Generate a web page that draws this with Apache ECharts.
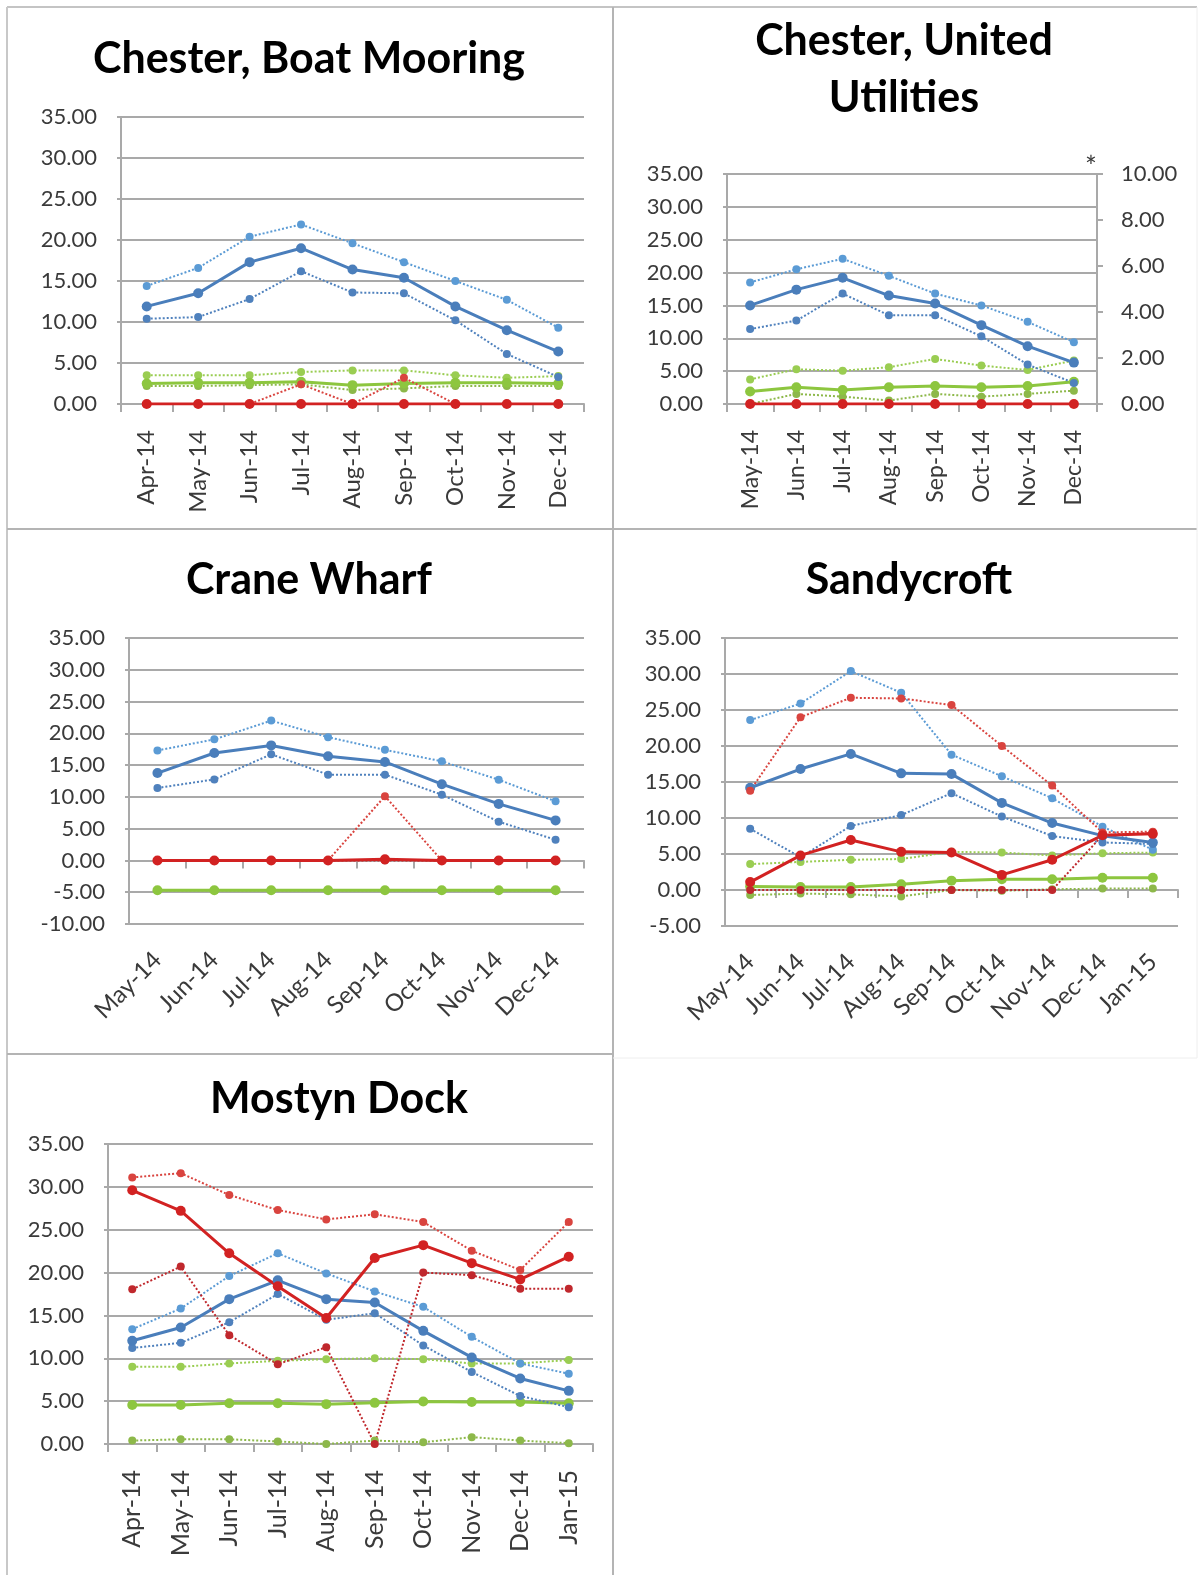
<!DOCTYPE html>
<html><head><meta charset="utf-8">
<script src="https://cdn.jsdelivr.net/npm/echarts@6/dist/echarts.min.js"></script>
<style>html,body{margin:0;padding:0;background:#fff}#c{width:1200px;height:1575px}</style>
</head><body><div id="c"></div>
<script>
// ---------- DATA ----------
// Chester, Boat Mooring
const bmCats = ['Apr-14','May-14','Jun-14','Jul-14','Aug-14','Sep-14','Oct-14','Nov-14','Dec-14'];
const bmBlueMean = [11.9, 13.5, 17.3, 19.0, 16.4, 15.4, 11.9, 9.0, 6.4];
const bmBlueMax  = [14.4, 16.6, 20.4, 21.9, 19.6, 17.3, 15.0, 12.7, 9.3];
const bmBlueMin  = [10.4, 10.6, 12.8, 16.2, 13.6, 13.5, 10.2, 6.1, 3.3];
const bmRedMean  = [0, 0, 0, 0, 0, 0, 0, 0, 0];
const bmRedMax   = [0, 0, 0, 2.4, 0, 3.2, 0, 0, 0];
const bmRedMin   = [0, 0, 0, 0, 0, 0, 0, 0, 0];
const bmGreenMean= [2.5, 2.6, 2.6, 2.7, 2.3, 2.5, 2.6, 2.6, 2.5];
const bmGreenMax = [3.5, 3.5, 3.5, 3.9, 4.1, 4.1, 3.5, 3.2, 3.4];
const bmGreenMin = [2.2, 2.2, 2.3, 2.4, 1.7, 1.9, 2.2, 2.2, 2.2];

// Chester, United Utilities (green on secondary axis *)
const uuCats = ['May-14','Jun-14','Jul-14','Aug-14','Sep-14','Oct-14','Nov-14','Dec-14'];
const uuBlueMean = [15.0, 17.4, 19.2, 16.5, 15.3, 12.0, 8.8, 6.3];
const uuBlueMax  = [18.5, 20.5, 22.1, 19.5, 16.8, 15.0, 12.5, 9.4];
const uuBlueMin  = [11.4, 12.7, 16.8, 13.5, 13.5, 10.3, 6.0, 3.2];
const uuRedMean  = [0, 0, 0, 0, 0, 0, 0, 0];
const uuRedMax   = [0, 0, 0, 0, 0, 0, 0, 0];
const uuRedMin   = [0, 0, 0, 0, 0, 0, 0, 0];
const uuGreenMean= [0.54, 0.73, 0.61, 0.73, 0.78, 0.73, 0.78, 0.97];
const uuGreenMax = [1.07, 1.51, 1.45, 1.60, 1.96, 1.67, 1.48, 1.89];
const uuGreenMin = [0.0, 0.44, 0.32, 0.15, 0.44, 0.32, 0.44, 0.58];

// Crane Wharf
const cwCats = ['May-14','Jun-14','Jul-14','Aug-14','Sep-14','Oct-14','Nov-14','Dec-14'];
const cwBlueMean = [13.75, 16.9, 18.1, 16.4, 15.5, 12.0, 8.9, 6.3];
const cwBlueMax  = [17.3, 19.05, 22.0, 19.4, 17.4, 15.6, 12.7, 9.3];
const cwBlueMin  = [11.4, 12.75, 16.7, 13.5, 13.5, 10.35, 6.1, 3.25];
const cwRedMean  = [0, 0, 0, 0, 0.2, 0, 0, 0];
const cwRedMax   = [0, 0, 0, 0, 10.1, 0, 0, 0];
const cwRedMin   = [0, 0, 0, 0, 0, 0, 0, 0];
const cwGreenMean= [-4.7, -4.7, -4.7, -4.7, -4.7, -4.7, -4.7, -4.7];
const cwGreenMax = [-4.7, -4.7, -4.7, -4.7, -4.7, -4.7, -4.7, -4.7];
const cwGreenMin = [-4.7, -4.7, -4.7, -4.7, -4.7, -4.7, -4.7, -4.7];

// Sandycroft
const scCats = ['May-14','Jun-14','Jul-14','Aug-14','Sep-14','Oct-14','Nov-14','Dec-14','Jan-15'];
const scBlueMean = [14.2, 16.8, 18.9, 16.2, 16.1, 12.1, 9.3, 7.55, 6.6];
const scBlueMax  = [23.6, 25.9, 30.4, 27.4, 18.8, 15.8, 12.75, 8.8, 5.6];
const scBlueMin  = [8.5, 4.55, 8.9, 10.4, 13.45, 10.2, 7.5, 6.6, 6.4];
const scRedMean  = [1.1, 4.8, 6.95, 5.3, 5.2, 2.1, 4.2, 7.6, 7.8];
const scRedMax   = [13.8, 24.0, 26.7, 26.6, 25.7, 20.0, 14.5, 8.0, 8.1];
const scRedMin   = [0, 0, 0, 0, 0, 0, 0, 7.6, 7.9];
const scGreenMean= [0.5, 0.4, 0.4, 0.8, 1.3, 1.5, 1.5, 1.7, 1.7];
const scGreenMax = [3.6, 3.9, 4.2, 4.3, 5.3, 5.2, 4.8, 5.1, 5.2];
const scGreenMin = [-0.7, -0.5, -0.6, -0.9, 0.0, -0.1, 0.1, 0.2, 0.2];

// Mostyn Dock
const mdCats = ['Apr-14','May-14','Jun-14','Jul-14','Aug-14','Sep-14','Oct-14','Nov-14','Dec-14','Jan-15'];
const mdBlueMean = [12.05, 13.6, 16.9, 19.1, 16.9, 16.5, 13.2, 10.1, 7.65, 6.2];
const mdBlueMax  = [13.4, 15.8, 19.6, 22.25, 19.9, 17.8, 16.0, 12.5, 9.4, 8.2];
const mdBlueMin  = [11.2, 11.8, 14.2, 17.5, 14.5, 15.25, 11.5, 8.4, 5.6, 4.3];
const mdRedMean  = [29.6, 27.2, 22.25, 18.4, 14.7, 21.7, 23.2, 21.1, 19.2, 21.85];
const mdRedMax   = [31.1, 31.6, 29.05, 27.3, 26.2, 26.8, 25.9, 22.55, 20.3, 25.9];
const mdRedMin   = [18.05, 20.7, 12.7, 9.3, 11.3, 0.0, 20.0, 19.7, 18.1, 18.1];
const mdGreenMean= [4.55, 4.55, 4.75, 4.75, 4.65, 4.8, 4.95, 4.9, 4.9, 4.75];
const mdGreenMax = [9.0, 9.0, 9.4, 9.7, 9.9, 10.0, 9.9, 9.4, 9.4, 9.8];
const mdGreenMin = [0.4, 0.55, 0.55, 0.3, 0.0, 0.4, 0.2, 0.8, 0.4, 0.1];

// Titles
const titles = ['Chester, Boat Mooring', 'Chester, United\nUtilities', 'Crane Wharf', 'Sandycroft', 'Mostyn Dock'];

// ---------- STYLE ----------
const FONT = 'Lato, "Open Sans", sans-serif';
const GRIDC = '#A9A9A9';
const TXT = '#3A3A3A';
const C = {
  blueMean: '#4A7EBB', blueMax: '#5B9BD5', blueMin: '#4F81BD',
  redMean: '#D22222', redMax: '#D9443F', redMin: '#C0282D',
  greenMean: '#8DC63F', greenMax: '#9ACD52', greenMin: '#8DB84A'
};

function lineSeries(name, data, color, kind, xi, yi) {
  const solid = kind === 'mean';
  return {
    type: 'line', name, data, xAxisIndex: xi, yAxisIndex: yi,
    symbol: 'circle', symbolSize: solid ? 10 : 8, showAllSymbol: true,
    itemStyle: { color },
    lineStyle: { color, width: solid ? 3 : 2, type: solid ? 'solid' : 'dotted' },
    emphasis: { disabled: true }, animation: false
  };
}
function panelSeries(p, xi, yi, yiGreen) {
  const g = yiGreen === undefined ? yi : yiGreen;
  return [
    lineSeries('Green max', p.gMax, C.greenMax, 'max', xi, g),
    lineSeries('Green min', p.gMin, C.greenMin, 'min', xi, g),
    lineSeries('Green mean', p.gMean, C.greenMean, 'mean', xi, g),
    lineSeries('Blue max', p.bMax, C.blueMax, 'max', xi, yi),
    lineSeries('Blue min', p.bMin, C.blueMin, 'min', xi, yi),
    lineSeries('Blue mean', p.bMean, C.blueMean, 'mean', xi, yi),
    lineSeries('Red max', p.rMax, C.redMax, 'max', xi, yi),
    lineSeries('Red min', p.rMin, C.redMin, 'min', xi, yi),
    lineSeries('Red mean', p.rMean, C.redMean, 'mean', xi, yi)
  ];
}

function xAx(grid, cats, rotate, opts) {
  opts = opts || {};
  return {
    type: 'category', gridIndex: grid, data: cats, boundaryGap: true, position: 'bottom',
    axisLine: { show: opts.line !== false, onZero: opts.onZero !== false, lineStyle: { color: GRIDC, width: 2 } },
    axisTick: { show: opts.line !== false, length: 8, lineStyle: { color: GRIDC, width: 2 } },
    axisLabel: { show: opts.labels !== false, rotate, interval: 0, margin: opts.margin || 26,
                 fontSize: opts.fontSize || 24, color: TXT, fontFamily: FONT },
    splitLine: { show: false }
  };
}
function yAx(grid, min, max, interval, opts) {
  opts = opts || {};
  return {
    type: 'value', gridIndex: grid, min, max, interval, position: opts.position || 'left',
    name: opts.name || '', nameLocation: 'end', nameGap: -8,
    nameTextStyle: { fontSize: 28, color: TXT, fontFamily: FONT, align: 'right', verticalAlign: 'bottom' },
    axisLine: { show: true, lineStyle: { color: GRIDC, width: 2 } },
    axisTick: { show: true, length: opts.position === 'right' ? 6 : 4, lineStyle: { color: GRIDC, width: 2 } },
    axisLabel: { margin: 24, fontSize: 22, color: TXT, fontFamily: FONT, formatter: v => v.toFixed(2) },
    splitLine: { show: opts.split !== false, lineStyle: { color: GRIDC, width: 2 } }
  };
}
function title(text, x, y) {
  return { text, left: x, top: y, textAlign: 'center', textVerticalAlign: 'middle', padding: 0,
           textStyle: { fontFamily: FONT, fontWeight: 'bold', fontSize: 43, color: '#000', lineHeight: 57 } };
}

const chart = echarts.init(document.getElementById('c'), null, { renderer: 'canvas' });
chart.setOption({
  backgroundColor: '#fff',
  animation: false,
  title: [
    title(titles[0], 309, 59),
    title(titles[1], 904, 70),
    title(titles[2], 309, 580),
    title(titles[3], 909, 580),
    title(titles[4], 339, 1099)
  ],
  grid: [
    { left: 121, top: 117, width: 463, height: 287 },
    { left: 727, top: 174, width: 370, height: 230 },
    { left: 129, top: 638, width: 455, height: 286 },
    { left: 725, top: 638, width: 453, height: 288 },
    { left: 108, top: 1144, width: 485, height: 300 }
  ],
  xAxis: [
    xAx(0, bmCats, 90, { fontSize: 24 }),
    xAx(1, uuCats, 90, { fontSize: 23 }),
    xAx(2, cwCats, 45, { line: false, onZero: false, margin: 32 }),
    xAx(2, cwCats, 45, { labels: false }),
    xAx(3, scCats, 45, { line: false, onZero: false, margin: 32 }),
    xAx(3, scCats, 45, { labels: false }),
    xAx(4, mdCats, 90, { fontSize: 25 })
  ],
  yAxis: [
    yAx(0, 0, 35, 5),
    yAx(1, 0, 35, 5),
    yAx(1, 0, 10, 2, { position: 'right', split: false, name: '*' }),
    yAx(2, -10, 35, 5),
    yAx(3, -5, 35, 5),
    yAx(4, 0, 35, 5)
  ],
  series: [].concat(
    panelSeries({ bMean: bmBlueMean, bMax: bmBlueMax, bMin: bmBlueMin, rMean: bmRedMean, rMax: bmRedMax, rMin: bmRedMin, gMean: bmGreenMean, gMax: bmGreenMax, gMin: bmGreenMin }, 0, 0),
    panelSeries({ bMean: uuBlueMean, bMax: uuBlueMax, bMin: uuBlueMin, rMean: uuRedMean, rMax: uuRedMax, rMin: uuRedMin, gMean: uuGreenMean, gMax: uuGreenMax, gMin: uuGreenMin }, 1, 1, 2),
    panelSeries({ bMean: cwBlueMean, bMax: cwBlueMax, bMin: cwBlueMin, rMean: cwRedMean, rMax: cwRedMax, rMin: cwRedMin, gMean: cwGreenMean, gMax: cwGreenMax, gMin: cwGreenMin }, 3, 3),
    panelSeries({ bMean: scBlueMean, bMax: scBlueMax, bMin: scBlueMin, rMean: scRedMean, rMax: scRedMax, rMin: scRedMin, gMean: scGreenMean, gMax: scGreenMax, gMin: scGreenMin }, 5, 4),
    panelSeries({ bMean: mdBlueMean, bMax: mdBlueMax, bMin: mdBlueMin, rMean: mdRedMean, rMax: mdRedMax, rMin: mdRedMin, gMean: mdGreenMean, gMax: mdGreenMax, gMin: mdGreenMin }, 6, 5)
  ),
  graphic: [
    { type: 'line', shape: { x1: 7, y1: 7, x2: 1197, y2: 7 }, style: { stroke: '#C4C4C4', lineWidth: 2 }, silent: true },
    { type: 'line', shape: { x1: 7, y1: 7, x2: 7, y2: 1575 }, style: { stroke: '#C8C8C8', lineWidth: 2 }, silent: true },
    { type: 'line', shape: { x1: 613, y1: 7, x2: 613, y2: 1575 }, style: { stroke: '#B4B4B4', lineWidth: 2 }, silent: true },
    { type: 'line', shape: { x1: 7, y1: 529, x2: 1197, y2: 529 }, style: { stroke: '#B4B4B4', lineWidth: 2 }, silent: true },
    { type: 'line', shape: { x1: 7, y1: 1054, x2: 613, y2: 1054 }, style: { stroke: '#B4B4B4', lineWidth: 2 }, silent: true },
    { type: 'line', shape: { x1: 613, y1: 1058, x2: 1197, y2: 1058 }, style: { stroke: '#EEEEEE', lineWidth: 1 }, silent: true },
    { type: 'line', shape: { x1: 1197, y1: 7, x2: 1197, y2: 1058 }, style: { stroke: '#EEEEEE', lineWidth: 1 }, silent: true }
  ]
});
</script>
</body></html>
